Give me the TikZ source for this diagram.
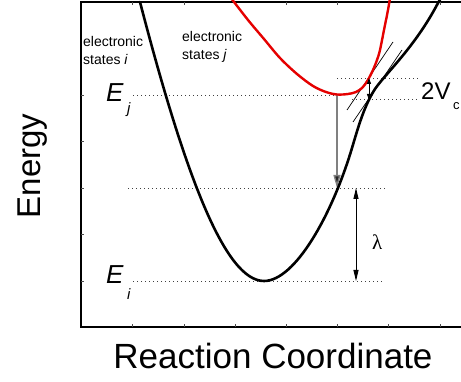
\documentclass[tikz,border=0pt]{standalone}
\usepackage{fontspec}
\setmainfont{Liberation Sans}
\newfontfamily\lamfont{Liberation Serif}
\usetikzlibrary{arrows.meta}
\begin{document}
\begin{tikzpicture}[x=1pt,y=-1pt,
  curve/.style={line width=2.6pt, line cap=round, line join=round},
  dotline/.style={line width=0.9pt, dash pattern=on 1pt off 3pt, black!75},
  tangent/.style={line width=0.7pt, black},
  frameline/.style={line width=1.3pt, black},
  tick/.style={line width=0.6pt, black!70},
  lbl/.style={inner sep=0pt, anchor=base west},
  dbl/.style={line width=0.9pt}]
\useasboundingbox (0,0) rectangle (461,382);
\clip (0,0) rectangle (461,382);

% frame
\coordinate (tl) at (81,2);
\coordinate (bl) at (81,327);
\coordinate (tr) at (470,2);
\coordinate (br) at (470,327);
\draw[frameline] (tr) -- (tl) -- (bl) -- (br);
\foreach \yy in {95,141.5,188,234.5,281} \draw[tick] (81,\yy) -- (84,\yy);
\foreach \xx in {132.7,184,235,286.7,337,388,440} {
  \draw[tick] (\xx,327) -- (\xx,324);
  \draw[tick] (\xx,2) -- (\xx,5);
}

% dotted levels
\coordinate (ej0) at (133,95);  \coordinate (ej1) at (336,95);
\coordinate (va0) at (337,78);  \coordinate (va1) at (418,78);
\coordinate (vb0) at (352,99.5);  \coordinate (vb1) at (418,99.5);
\coordinate (lm0) at (128,188); \coordinate (lm1) at (388,188);
\coordinate (ei0) at (133,281); \coordinate (ei1) at (382,281);
\draw[dotline] (ej0) -- (ej1);
\draw[dotline] (va0) -- (va1);
\draw[dotline] (vb0) -- (vb1);
\draw[dotline] (lm0) -- (lm1);
\draw[dotline] (ei0) -- (ei1);

% vertical transition arrow
\coordinate (tr0) at (337,95);
\coordinate (tr1) at (337,188);
\draw[line width=1.4pt, black!50, -{Triangle[length=13pt,width=7pt,fill=black!85]}] (tr0) -- (tr1);

% tangent lines
\coordinate (t1a) at (347,110); \coordinate (t1b) at (393,42);
\coordinate (t2a) at (353,122); \coordinate (t2b) at (402,50);
\draw[tangent] (t1a) -- (t1b);
\draw[tangent] (t2a) -- (t2b);

% black curve (states i, lower surface)
\coordinate (b0) at (140,2);
\coordinate (bmin) at (264,281);
\coordinate (b2) at (352,148);
\coordinate (b3) at (375,89);
\coordinate (b4) at (438,3);
\coordinate (b5) at (441.5,-3);
\draw[curve, black] (b0) .. controls (185,175) and (225,281) .. (bmin)
  .. controls (295,281) and (332,215) .. (b2)
  .. controls (358,128) and (364,106) .. (b3)
  .. controls (386,73) and (415,47) .. (b4) -- (b5);

% red curve (states j, upper surface)
\draw[curve, red!90!black, line width=2.4pt] plot[smooth, tension=0.55] coordinates {
 (231,-2) (248,20) (264,39) (280,58) (297,74) (313,86) (326,92) (337,94.5)
 (348,94) (356,92) (362,88) (366,83) (369,78) (373,70) (377,60) (380,50)
 (384,30) (388,10) (390,-2)};

% 2Vc arrow
\coordinate (vc0) at (369,78);
\coordinate (vc1) at (369,100);
\draw[dbl, {Triangle[length=6pt,width=4pt]}-{Triangle[length=6pt,width=4pt]}] (vc0) -- (vc1);

% lambda arrow
\coordinate (la0) at (356,188);
\coordinate (la1) at (356,281);
\draw[dbl, {Triangle[length=11pt,width=5pt]}-{Triangle[length=11pt,width=5pt]}] (la0) -- (la1);

% labels
\node[lbl, font=\fontsize{14}{17}\selectfont] (esi) at (83,47) {electronic};
\node[lbl, font=\fontsize{14}{17}\selectfont] (esi2) at (83,65) {states \textit{i}};
\node[lbl, font=\fontsize{14}{17}\selectfont] (esj) at (182,42) {electronic};
\node[lbl, font=\fontsize{14}{17}\selectfont] (esj2) at (182,60) {states \textit{j}};

\node[lbl, font=\fontsize{26}{26}\selectfont\itshape] (Ej) at (106,102) {E};
\node[lbl, font=\fontsize{15}{15}\selectfont\itshape] (Ejs) at (127,114) {j};
\node[lbl, font=\fontsize{26}{26}\selectfont\itshape] (Ei) at (106,284) {E};
\node[lbl, font=\fontsize{15}{15}\selectfont\itshape] (Eis) at (127,300) {i};

\node[lbl, font=\fontsize{24}{24}\selectfont] (vc) at (421,100) {2V};
\node[lbl, font=\fontsize{13}{13}\selectfont] (vcs) at (453,110) {c};

\node[lbl, font=\fontsize{21}{21}\selectfont\lamfont] (lam) at (372,250) {λ};

\node[inner sep=0pt, anchor=base, rotate=90, font=\fontsize{33}{33}\selectfont] (en) at (41,166) {Energy};
\node[inner sep=0pt, anchor=base, font=\fontsize{35}{35}\selectfont] (rc) at (273,369) {Reaction Coordinate};
\end{tikzpicture}
\end{document}
